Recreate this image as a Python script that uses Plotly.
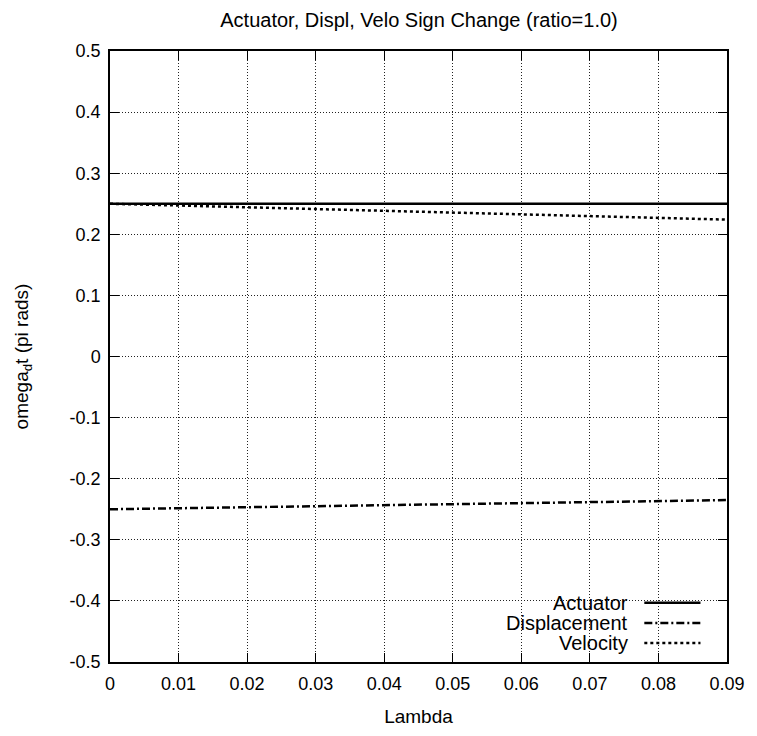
import plotly.graph_objects as go

# ---- data ----
lam = [0.0, 0.01, 0.02, 0.03, 0.04, 0.05, 0.06, 0.07, 0.08, 0.09]
actuator = [0.25, 0.25, 0.25, 0.25, 0.25, 0.25, 0.25, 0.25, 0.25, 0.25]
displacement = [-0.25, -0.2484, -0.2467, -0.2450, -0.2434, -0.2417, -0.2400, -0.2383, -0.2366, -0.2350]
velocity = [0.25, 0.2470, 0.2440, 0.2410, 0.2381, 0.2352, 0.2323, 0.2295, 0.2267, 0.2240]

x_ticks = [0.0, 0.01, 0.02, 0.03, 0.04, 0.05, 0.06, 0.07, 0.08, 0.09]
x_labels = ["0", "0.01", "0.02", "0.03", "0.04", "0.05", "0.06", "0.07", "0.08", "0.09"]
y_ticks = [-0.5, -0.4, -0.3, -0.2, -0.1, 0.0, 0.1, 0.2, 0.3, 0.4, 0.5]
y_labels = ["-0.5", "-0.4", "-0.3", "-0.2", "-0.1", "0", "0.1", "0.2", "0.3", "0.4", "0.5"]

series_names = ["Actuator", "Displacement", "Velocity"]
series_dash = ["solid", "8px,3px,2px,3px", "3px,3px"]

FONT = "Liberation Sans, Arial, Helvetica, sans-serif"

fig = go.Figure()
for name, ys, dash in zip(series_names, [actuator, displacement, velocity], series_dash):
    fig.add_trace(go.Scatter(x=lam, y=ys, mode="lines", name=name,
                             line=dict(color="black", width=2.5, dash=dash),
                             showlegend=False))

# manual gnuplot-style key (text right-aligned, sample on the right)
fig.add_shape(type="rect", xref="paper", yref="paper", x0=0.602, x1=0.998, y0=0.003, y1=0.118,
              fillcolor="white", line=dict(width=0), layer="between")
row_y = [0.097, 0.064, 0.031]
for name, dash, yy in zip(series_names, series_dash, row_y):
    fig.add_annotation(xref="paper", yref="paper", x=0.842, y=yy, text=name,
                       showarrow=False, xanchor="right", yanchor="middle",
                       font=dict(family=FONT, size=20, color="black"))
    fig.add_shape(type="line", xref="paper", yref="paper", x0=0.866, x1=0.957, y0=yy, y1=yy,
                  line=dict(color="black", width=2.5, dash=dash), layer="above")

axis_common = dict(
    showline=True, linecolor="black", linewidth=1.5, mirror="ticks",
    ticks="inside", ticklen=9, tickwidth=1.2, tickcolor="black",
    showgrid=True, gridcolor="#222222", gridwidth=1, griddash="1px,2px",
    zeroline=False, tickfont=dict(family=FONT, size=18, color="black"),
)

fig.update_xaxes(range=[0, 0.09], tickmode="array", tickvals=x_ticks, ticktext=x_labels,
                 ticklabelstandoff=5,
                 title=dict(text="Lambda", font=dict(family=FONT, size=19, color="black"), standoff=16),
                 **axis_common)
fig.update_yaxes(range=[-0.5, 0.5], tickmode="array", tickvals=y_ticks, ticktext=y_labels,
                 ticklabelstandoff=4,
                 title=dict(text="omega<sub>d</sub>t (pi rads)", font=dict(family=FONT, size=19, color="black"), standoff=36),
                 **axis_common)

# page body has an 8px margin: figure is sized/offset so the plot lands where the reference has it
fig.update_layout(
    width=749, height=728,
    margin=dict(l=101, r=27, t=43, b=65, pad=0),
    paper_bgcolor="white", plot_bgcolor="white",
    title=dict(text="Actuator, Displ, Velo Sign Change (ratio=1.0)", x=411 / 749, xref="container",
               xanchor="center", y=1 - 12 / 728, yref="container", yanchor="middle",
               font=dict(family=FONT, size=20, color="black")),
    font=dict(family=FONT, color="black"),
)

fig.write_html("out.html")
